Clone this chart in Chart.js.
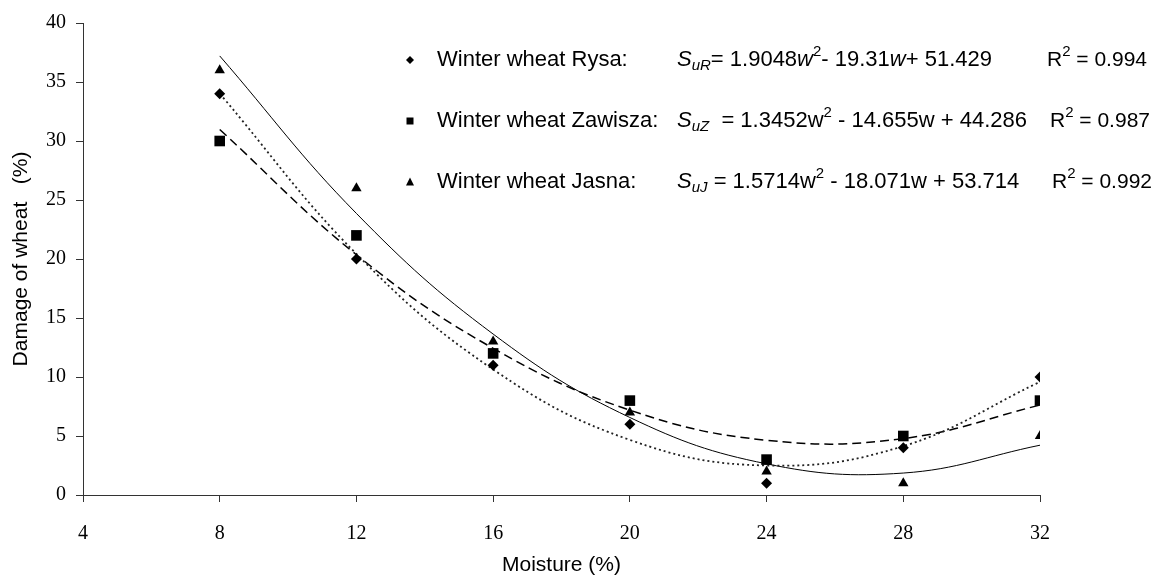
<!DOCTYPE html>
<html><head><meta charset="utf-8">
<script src="https://cdn.jsdelivr.net/npm/chart.js@4.4.0/dist/chart.umd.min.js"></script>
<style>html,body{margin:0;padding:0;background:#fff;}#wrap{width:1155px;height:581px;position:relative;}</style>
</head><body><div id="wrap"><canvas id="c"></canvas></div>
<script>
// ---- data ----
const moisture = [8, 12, 16, 20, 24, 28, 32];
const rysa = [34, 20, 11, 6, 1, 4, 10];
const zawisza = [30, 22, 12, 8, 3, 5, 8];
const jasna = [36, 26, 13, 7, 2, 1, 5];
// trend-line values read at each moisture level
const rysaTrend = [34.02, 20.43, 10.64, 4.67, 2.50, 4.14, 9.59];
const zawiszaTrend = [30.98, 20.36, 12.43, 7.19, 4.64, 4.78, 7.62];
const jasnaTrend = [37.21, 23.86, 13.64, 6.57, 2.64, 1.86, 4.22];
const xTickValues = [4, 8, 12, 16, 20, 24, 28, 32];
const yTickValues = [0, 5, 10, 15, 20, 25, 30, 35, 40];
const seriesNames = ['Winter wheat Rysa:', 'Winter wheat Zawisza:', 'Winter wheat Jasna:'];
const equations = [
  [['S','i'],['uR','isub'],['= 1.9048',''],['w','i'],['2','sup'],['- 19.31',''],['w','i'],['+ 51.429','']],
  [['S','i'],['uZ','isub'],['  = 1.3452w',''],['2','sup'],[' - 14.655w + 44.286','']],
  [['S','i'],['uJ','isub'],[' = 1.5714w',''],['2','sup'],[' - 18.071w + 53.714','']]
];
const rSquared = ['0.994', '0.987', '0.992'];
const xTitle = 'Moisture (%)';
const yTitle = 'Damage of wheat   (%)';

const pts = (ys) => moisture.map((x, i) => ({x: x, y: ys[i]}));
const SANS = '"Liberation Sans", Arial, sans-serif';
const SERIF = '"Liberation Serif", "Times New Roman", serif';

function marker(ctx, kind, x, y) {
  ctx.beginPath();
  if (kind === 0) { const r = 4; ctx.moveTo(x, y - r); ctx.lineTo(x + r, y); ctx.lineTo(x, y + r); ctx.lineTo(x - r, y); }
  else if (kind === 1) { const s = 3.5; ctx.rect(x - s, y - s, 2 * s, 2 * s); }
  else { ctx.moveTo(x, y - 4.5); ctx.lineTo(x + 4, y + 3.5); ctx.lineTo(x - 4, y + 3.5); }
  ctx.closePath(); ctx.fill();
}

function drawRich(ctx, segs, x, y, size) {
  for (const [t, st] of segs) {
    let font = size + 'px ' + SANS, dy = 0;
    if (st === 'i') font = 'italic ' + size + 'px ' + SANS;
    if (st === 'isub') { font = 'italic 15px ' + SANS; dy = 6; }
    if (st === 'sup') { font = '15px ' + SANS; dy = -8; }
    ctx.font = font;
    ctx.fillText(t, x, y + dy);
    x += ctx.measureText(t).width;
  }
}

const overlay = {
  id: 'overlay',
  afterDraw(chart) {
    const ctx = chart.ctx;
    ctx.save();
    ctx.fillStyle = '#000';
    ctx.textBaseline = 'middle';
    ctx.textAlign = 'left';
    const rows = [60, 121, 182];
    const rX = [1047, 1050, 1052];
    for (let i = 0; i < 3; i++) {
      marker(ctx, i, 410, rows[i]);
      ctx.font = '22px ' + SANS;
      ctx.fillText(seriesNames[i], 437, rows[i]);
      drawRich(ctx, equations[i], 677, rows[i], 22);
      drawRich(ctx, [['R',''],['2','sup'],[' = ' + rSquared[i], '']], rX[i], rows[i], 21);
    }
    ctx.restore();
  }
};

new Chart(document.getElementById('c'), {
  type: 'scatter',
  data: {
    datasets: [
      {data: pts(rysaTrend), showLine: true, tension: 0.4, pointRadius: 0, borderColor: '#222', borderWidth: 1.8, borderDash: [2, 3], order: 5},
      {data: pts(zawiszaTrend), showLine: true, tension: 0.4, pointRadius: 0, borderColor: '#000', borderWidth: 1.5, borderDash: [9, 5], order: 5},
      {data: pts(jasnaTrend), showLine: true, tension: 0.4, pointRadius: 0, borderColor: '#000', borderWidth: 1, order: 5},
      {data: pts(rysa), pointStyle: 'rectRot', pointRadius: 5.5, backgroundColor: '#000', borderColor: '#000', borderWidth: 0, order: 1},
      {data: pts(zawisza), pointStyle: 'rect', pointRadius: 7.5, backgroundColor: '#000', borderColor: '#000', borderWidth: 0, order: 1},
      {data: pts(jasna), pointStyle: 'triangle', pointRadius: 6, backgroundColor: '#000', borderColor: '#000', borderWidth: 0, order: 1}
    ]
  },
  options: {
    responsive: true, maintainAspectRatio: false, animation: false,
    devicePixelRatio: 1,
    layout: {padding: {top: 23, right: 115, bottom: 0, left: 0}},
    plugins: {legend: {display: false}, tooltip: {enabled: false}},
    scales: {
      x: {
        type: 'linear', min: xTickValues[0], max: xTickValues[xTickValues.length - 1],
        afterBuildTicks: (s) => { s.ticks = xTickValues.map(v => ({value: v})); },
        afterFit: (s) => { s.height = 86; },
        grid: {drawOnChartArea: false, drawTicks: true, tickLength: 7, color: '#333', tickColor: '#333'},
        border: {display: true, color: '#333', width: 1},
        ticks: {color: '#000', font: {family: SERIF, size: 20}, padding: 20, maxRotation: 0, autoSkip: false},
        title: {display: true, text: xTitle, color: '#000', font: {family: SANS, size: 21}, padding: {top: 0, bottom: 3}}
      },
      y: {
        type: 'linear', min: yTickValues[0], max: yTickValues[yTickValues.length - 1],
        afterBuildTicks: (s) => { s.ticks = yTickValues.map(v => ({value: v})); },
        afterFit: (s) => { s.width = 83; },
        grid: {drawOnChartArea: false, drawTicks: true, tickLength: 7, color: '#333', tickColor: '#333'},
        border: {display: true, color: '#333', width: 1},
        ticks: {color: '#000', font: {family: SERIF, size: 20}, padding: 10, autoSkip: false},
        title: {display: true, text: yTitle, color: '#000', font: {family: SANS, size: 21}, padding: {top: 9, bottom: 0}}
      }
    }
  },
  plugins: [overlay]
});
</script></body></html>
